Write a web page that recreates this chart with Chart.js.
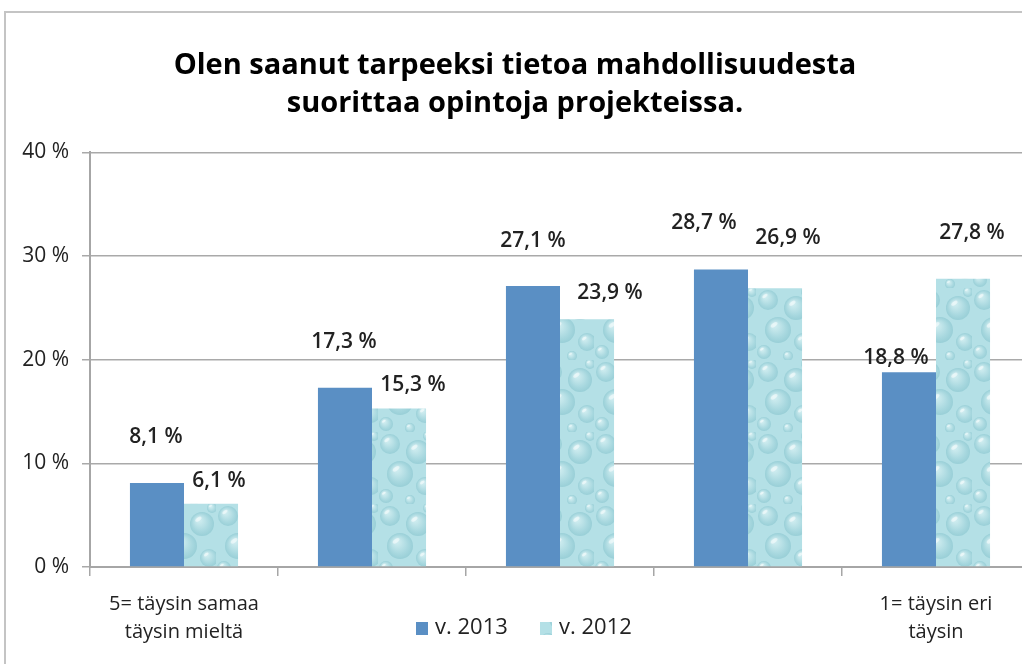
<!DOCTYPE html>
<html>
<head>
<meta charset="utf-8">
<script src="https://cdn.jsdelivr.net/npm/chart.js@4.4.1/dist/chart.umd.min.js"></script>
<style>
  html, body { margin: 0; padding: 0; background: #fff; overflow: hidden; }
  #wrap { position: relative; width: 1040px; height: 664px; }
</style>
</head>
<body>
<div id="wrap"><canvas id="chart" width="1040" height="664"></canvas></div>
<script>
// data
const categories = [['5= täysin samaa', 'täysin mieltä'], '', '', '', ['1= täysin eri', 'täysin']];
const seriesNames = ['v. 2013', 'v. 2012'];
const values2013 = [8.1, 17.3, 27.1, 28.7, 18.8];
const values2012 = [6.1, 15.3, 23.9, 26.9, 27.8];
const yTicks = [0, 10, 20, 30, 40];
const titleLines = ['Olen saanut tarpeeksi tietoa mahdollisuudesta', 'suorittaa opintoja projekteissa.'];

const BLUE = '#5a8fc4';
const FONT = '"Open Sans", Lato, sans-serif';

// water drop texture for the 2012 bars
function makeDrops() {
  const c = document.createElement('canvas');
  c.width = 54; c.height = 72;
  const g = c.getContext('2d');
  g.fillStyle = '#b4e0e6';
  g.fillRect(0, 0, c.width, c.height);
  const drops = [[12, 12, 10], [40, 20, 12], [22, 42, 13], [47, 54, 9], [8, 64, 7], [32, 68, 5], [50, 4, 5]];
  drops.forEach(([x, y, r]) => {
    const rg = g.createRadialGradient(x - r * 0.3, y - r * 0.4, 1, x, y, r);
    rg.addColorStop(0, '#d2eef1');
    rg.addColorStop(0.7, '#a8d8df');
    rg.addColorStop(1, '#99cfd7');
    g.fillStyle = rg;
    g.beginPath(); g.arc(x, y, r, 0, Math.PI * 2); g.fill();
    g.fillStyle = 'rgba(255,255,255,0.5)';
    g.beginPath(); g.ellipse(x - r * 0.3, y - r * 0.4, r * 0.3, r * 0.15, -0.6, 0, Math.PI * 2); g.fill();
  });
  return g.createPattern(c, 'repeat');
}
const drops = makeDrops();

function fmt(v) { return v.toFixed(1).replace('.', ',') + ' %'; }

// frame, value labels and legend
const extras = {
  id: 'extras',
  beforeDraw(chart) {
    const ctx = chart.ctx;
    ctx.save();
    ctx.strokeStyle = '#c4c4c4';
    ctx.lineWidth = 2;
    ctx.beginPath();
    ctx.moveTo(5, 664); ctx.lineTo(5, 12); ctx.lineTo(1040, 12);
    ctx.stroke();
    ctx.restore();
  },
  afterDatasetsDraw(chart, args, opts) {
    const ctx = chart.ctx;
    ctx.save();
    ctx.font = '600 21px ' + FONT;
    ctx.fillStyle = '#222';
    ctx.textAlign = 'center';
    ctx.textBaseline = 'middle';
    chart.data.datasets.forEach((ds, di) => {
      chart.getDatasetMeta(di).data.forEach((bar, i) => {
        const off = opts.offsets[di][i];
        ctx.fillText(fmt(ds.data[i]), bar.x + off[0], bar.y + off[1]);
      });
    });
    // legend
    ctx.font = '22px ' + FONT;
    let x = opts.legendX;
    const y = opts.legendY;
    chart.data.datasets.forEach((ds) => {
      ctx.fillStyle = ds.backgroundColor;
      ctx.fillRect(x, y - 6, 12, 13);
      ctx.fillStyle = '#222';
      ctx.textAlign = 'left';
      ctx.fillText(ds.label, x + 19, y);
      x += 124;
    });
    ctx.restore();
  }
};

new Chart(document.getElementById('chart'), {
  type: 'bar',
  data: {
    labels: categories,
    datasets: [
      { label: seriesNames[0], data: values2013, backgroundColor: BLUE },
      { label: seriesNames[1], data: values2012, backgroundColor: drops }
    ]
  },
  options: {
    responsive: false,
    animation: false,
    layout: { padding: { top: 0, right: 10, left: 0, bottom: 0 } },
    datasets: { bar: { barPercentage: 1.0, categoryPercentage: 0.575 } },
    scales: {
      x: {
        grid: { display: true, drawOnChartArea: false, color: '#a6a6a6', lineWidth: 1.5, tickLength: 9 },
        border: { color: '#a6a6a6', width: 2 },
        ticks: { color: '#222', font: { family: FONT, size: 20, lineHeight: 1.4 }, padding: 14, maxRotation: 0, autoSkip: false },
        afterFit(s) { s.height = 97; }
      },
      y: {
        min: 0, max: 40,
        afterBuildTicks(s) { s.ticks = yTicks.map(v => ({ value: v })); },
        grid: { color: '#a9a9a9', lineWidth: 1.5, tickLength: 8 },
        border: { color: '#a6a6a6', width: 2 },
        ticks: { color: '#222', font: { family: FONT, size: 21 }, padding: 13, callback: v => v + ' %' },
        afterFit(s) { s.width = 90; }
      }
    },
    plugins: {
      legend: { display: false },
      tooltip: { enabled: false },
      title: {
        display: true,
        text: titleLines,
        color: '#000',
        font: { family: FONT, size: 29, weight: 'bold', lineHeight: 1.3 },
        padding: { top: 47, bottom: 30 }
      },
      extras: {
        offsets: [
          [[-1, -46], [-1, -46], [0, -45], [-17, -47], [-13, -14]],
          [[8, -23], [14, -23], [23, -26], [13, -50], [9, -46]]
        ],
        legendX: 416,
        legendY: 628
      }
    }
  },
  plugins: [extras]
});
</script>
</body>
</html>
